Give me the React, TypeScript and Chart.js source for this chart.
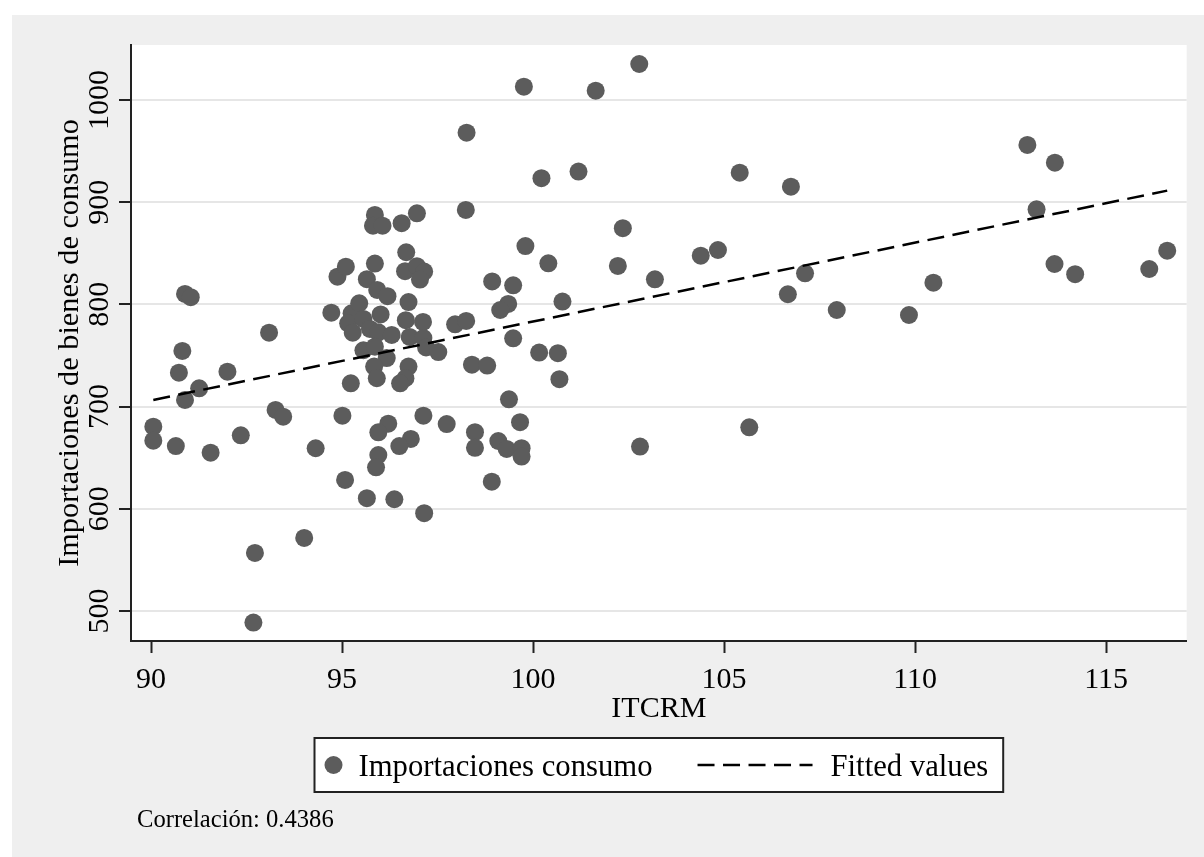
import React, { useEffect, useRef } from "react";
import { Chart, registerables } from "chart.js";

Chart.register(...registerables);

// ITCRM (x) values
const itcrm = [
  90.06, 90.06, 90.65, 90.73, 90.82, 90.89, 90.89, 91.04, 91.26, 91.56,
  92.0, 92.35, 92.72, 92.68, 93.09, 93.26, 93.46, 94.31, 94.01, 94.72,
  94.88, 95.1, 95.01, 95.08, 95.23, 95.25, 95.16, 95.28, 95.45, 95.56,
  95.65, 95.86, 95.86, 95.81, 96.06, 96.56, 96.96, 96.68, 96.65, 96.96,
  97.15, 97.04, 95.92, 96.19, 96.74, 96.01, 96.67, 97.12, 95.73, 95.95,
  96.3, 96.77, 97.13, 97.2, 97.52, 95.56, 95.86, 96.17, 98.4, 95.84,
  95.91, 96.74, 96.66, 96.52, 97.13, 97.74, 96.21, 95.95, 96.8, 96.5,
  98.48, 98.48, 95.95, 95.89, 95.65, 96.37, 97.15, 98.8, 97.96, 98.25,
  98.24, 98.26, 99.76, 101.64, 102.78, 100.22, 101.19, 102.35, 99.8, 100.4,
  102.22, 103.19, 98.93, 99.48, 99.35, 99.14, 100.77, 99.48, 100.16, 100.65,
  100.69, 99.37, 99.66, 99.09, 99.31, 99.7, 99.7, 98.92, 102.8, 105.41,
  106.75, 104.39, 104.84, 107.12, 106.67, 107.95, 109.84, 110.48, 105.66, 112.94,
  113.66, 113.18, 113.65, 114.19, 116.13, 116.6,
];

// Importaciones de bienes de consumo (y) values
const importaciones = [
  680.3, 666.6, 661.4, 733.2, 754.4, 706.5, 810.2, 807.0, 717.9, 654.9,
  734.1, 671.9, 556.8, 488.6, 772.3, 696.7, 690.1, 659.2, 571.4, 791.9,
  827.1, 836.9, 691.1, 628.2, 722.8, 791.3, 781.5, 772.3, 801.1, 785.7,
  824.6, 839.9, 887.5, 877.0, 877.0, 879.4, 889.1, 851.0, 832.5, 837.4,
  832.1, 824.3, 814.1, 808.0, 802.2, 790.1, 784.5, 782.8, 776.0, 772.6,
  770.1, 768.1, 767.1, 757.8, 753.3, 755.1, 758.6, 747.4, 741.0, 739.1,
  727.7, 739.1, 727.7, 722.8, 691.1, 682.9, 683.3, 674.8, 668.3, 661.4,
  674.9, 659.6, 652.6, 640.6, 610.3, 609.3, 595.7, 740.1, 780.5, 783.8,
  892.4, 968.0, 1013.0, 1009.1, 1035.2, 923.5, 929.9, 874.5, 857.1, 840.2,
  837.6, 824.5, 822.4, 818.6, 800.4, 794.5, 802.7, 766.8, 752.8, 752.2,
  726.8, 707.1, 684.7, 666.3, 658.5, 659.3, 651.1, 626.5, 660.9, 928.9,
  915.2, 847.6, 853.2, 830.4, 809.9, 794.5, 789.6, 821.2, 679.7, 956.0,
  938.7, 893.0, 839.5, 829.5, 834.6, 852.5,
];

// Fitted values line endpoints
const fitX = [90.06, 116.6];
const fitY = [706.5, 911.3];

const xTicks = [90, 95, 100, 105, 110, 115];
const yTicks = [500, 600, 700, 800, 900, 1000];
const seriesLabels = ["Importaciones consumo", "Fitted values"];
const xTitle = "ITCRM";
const yTitle = "Importaciones de bienes de consumo";
const note = "Correlación: 0.4386";

const FONT = "'Liberation Serif', 'Times New Roman', serif";
const MARKER = "#5c5c5c";
const DASH = [17, 8.5];

const decor = {
  id: "decor",
  beforeDraw(chart: any) {
    const { ctx, chartArea: ca } = chart;
    ctx.save();
    ctx.fillStyle = "#ffffff";
    ctx.fillRect(ca.left, ca.top, ca.right - ca.left, ca.bottom - ca.top);
    ctx.restore();
  },
  afterDraw(chart: any) {
    const { ctx, chartArea: ca } = chart;
    const xs = chart.scales.x;
    const ys = chart.scales.y;
    ctx.save();
    ctx.fillStyle = "#000";
    ctx.font = `30px ${FONT}`;
    ctx.textBaseline = "alphabetic";
    ctx.textAlign = "center";
    xs.ticks.forEach((t: any) => {
      ctx.fillText(String(t.value), xs.getPixelForValue(t.value), ca.bottom + 47);
    });
    ys.ticks.forEach((t: any) => {
      const y = ys.getPixelForValue(t.value);
      ctx.save();
      ctx.translate(ca.left - 23, y);
      ctx.rotate(-Math.PI / 2);
      ctx.fillText(String(t.value), 0, 0);
      ctx.restore();
    });
    // axis titles
    ctx.fillText(xTitle, (ca.left + ca.right) / 2, ca.bottom + 76);
    ctx.save();
    ctx.font = `30.3px ${FONT}`;
    ctx.translate(ca.left - 53.5, (ca.top + ca.bottom) / 2);
    ctx.rotate(-Math.PI / 2);
    ctx.fillText(yTitle, 0, 0);
    ctx.restore();

    // legend
    ctx.font = `30.7px ${FONT}`;
    const ds = chart.data.datasets;
    const l1 = ds[1].label;
    const l2 = ds[0].label;
    const w1 = ctx.measureText(l1).width;
    const w2 = ctx.measureText(l2).width;
    const total = 19 + 25 + w1 + 45 + 115 + 18 + w2 + 15;
    const bx = (ca.left + ca.right) / 2 - total / 2;
    const by = ca.bottom + 97;
    const bh = 54;
    ctx.fillStyle = "#ffffff";
    ctx.fillRect(bx, by, total, bh);
    ctx.strokeStyle = "#222";
    ctx.lineWidth = 2;
    ctx.strokeRect(bx, by, total, bh);
    ctx.fillStyle = MARKER;
    ctx.beginPath();
    ctx.arc(bx + 19, by + 27, 9, 0, Math.PI * 2);
    ctx.fill();
    ctx.fillStyle = "#000";
    ctx.textAlign = "left";
    ctx.fillText(l1, bx + 44, by + 38);
    const dx = bx + 44 + w1 + 45;
    ctx.strokeStyle = "#000";
    ctx.lineWidth = 2.5;
    ctx.setLineDash(DASH);
    ctx.beginPath();
    ctx.moveTo(dx, by + 27);
    ctx.lineTo(dx + 115, by + 27);
    ctx.stroke();
    ctx.setLineDash([]);
    ctx.fillText(l2, dx + 115 + 18, by + 38);

    // note
    ctx.font = `24.6px ${FONT}`;
    ctx.fillText(note, 125, ca.bottom + 186);
    ctx.restore();
  },
};

export default function App() {
  const ref = useRef<HTMLCanvasElement>(null);
  useEffect(() => {
    if (!ref.current) return;
    const scatterPts = itcrm.map((x, i) => ({ x, y: importaciones[i] }));
    const fitPts = fitX.map((x, i) => ({ x, y: fitY[i] }));
    const chart = new Chart(ref.current, {
      type: "scatter",
      data: {
        datasets: [
          {
            type: "line",
            label: seriesLabels[1],
            data: fitPts,
            borderColor: "#000",
            borderWidth: 2.5,
            borderDash: DASH,
            pointRadius: 0,
            fill: false,
            order: 0,
          } as any,
          {
            label: seriesLabels[0],
            data: scatterPts,
            backgroundColor: MARKER,
            borderWidth: 0,
            pointRadius: 9,
            pointHoverRadius: 9,
            order: 1,
          },
        ],
      },
      options: {
        responsive: false,
        devicePixelRatio: 1,
        animation: false,
        events: [],
        layout: { padding: { left: 0, top: 30, right: 17.3, bottom: 0 } },
        plugins: { legend: { display: false }, tooltip: { enabled: false } },
        scales: {
          x: {
            type: "linear",
            min: 89.476,
            max: 117.11,
            afterBuildTicks: (s: any) => {
              s.ticks = xTicks.map((v) => ({ value: v }));
            },
            afterFit: (s: any) => {
              s.height = 216;
            },
            ticks: { display: false },
            grid: {
              display: true,
              drawOnChartArea: false,
              drawTicks: true,
              tickLength: 12,
              tickColor: "#222",
              tickWidth: 2,
            },
            border: { display: true, color: "#222", width: 2 },
          },
          y: {
            type: "linear",
            min: 470.6,
            max: 1053.8,
            afterBuildTicks: (s: any) => {
              s.ticks = yTicks.map((v) => ({ value: v }));
            },
            afterFit: (s: any) => {
              s.width = 119;
            },
            ticks: { display: false },
            grid: {
              display: true,
              drawOnChartArea: true,
              color: "#e6e6e6",
              lineWidth: 2,
              drawTicks: true,
              tickLength: 12,
              tickColor: "#222",
              tickWidth: 2,
            },
            border: { display: true, color: "#222", width: 2 },
          },
        },
      } as any,
      plugins: [decor],
    });
    return () => chart.destroy();
  }, []);
  return (
    <div
      style={{
        position: "absolute",
        left: 0,
        top: 0,
        width: 1204,
        height: 857,
        background: "#ffffff",
        overflow: "hidden",
      }}
    >
      <div
        style={{
          position: "absolute",
          left: 12,
          top: 15,
          width: 1192,
          height: 842,
          background: "#efefef",
        }}
      >
        <canvas
          ref={ref}
          width={1192}
          height={842}
          style={{ display: "block", width: 1192, height: 842 }}
        />
      </div>
    </div>
  );
}
